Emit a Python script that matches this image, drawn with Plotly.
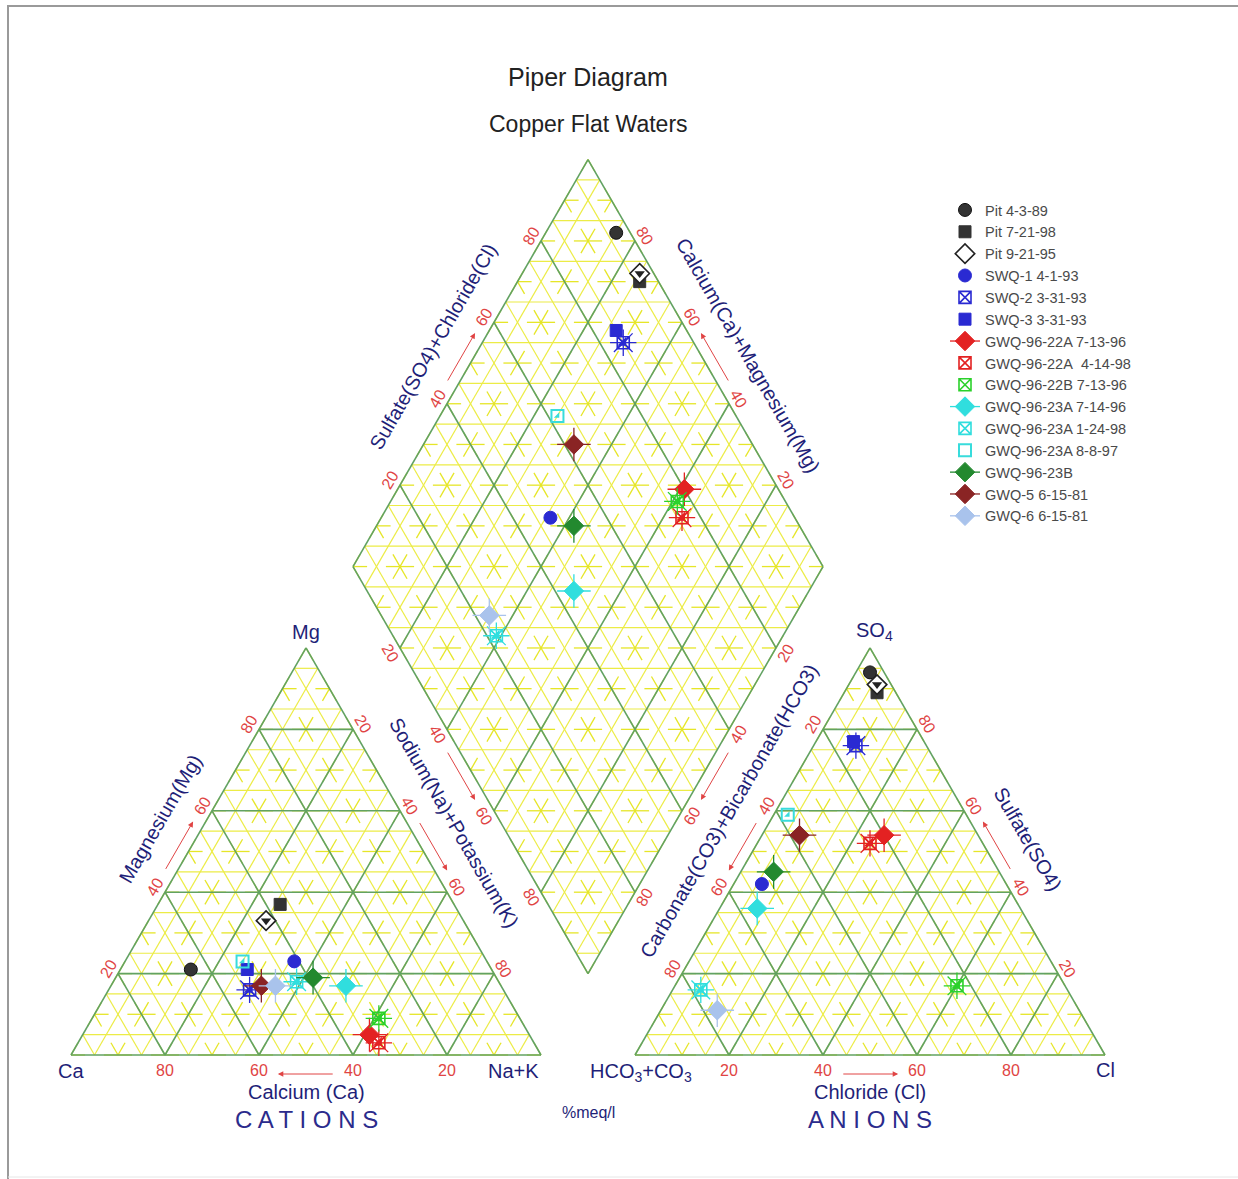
import plotly.graph_objects as go

# ---------------- sample data (percent of total meq/l) ----------------
samples = ["Pit 4-3-89", "Pit 7-21-98", "Pit 9-21-95", "SWQ-1 4-1-93", "SWQ-2 3-31-93",
           "SWQ-3 3-31-93", "GWQ-96-22A 7-13-96", "GWQ-96-22A\u00a0 4-14-98", "GWQ-96-22B 7-13-96",
           "GWQ-96-23A 7-14-96", "GWQ-96-23A 1-24-98", "GWQ-96-23A 8-8-97", "GWQ-96-23B",
           "GWQ-5 6-15-81", "GWQ-6 6-15-81"]

# cations
ca   = [64, 37, 42, 41, 54, 52, 34, 33, 30, 33, 43, 52, 39, 51, 48]
mg   = [21, 37, 33, 23, 16, 21,  5,  3,  9, 17, 18, 23, 19, 17, 17]
nak  = [15, 26, 25, 36, 30, 27, 61, 64, 61, 50, 39, 25, 42, 32, 35]
# anions
hco3 = [ 3,  4,  3, 52, 15, 15, 20, 24, 23, 56, 78, 38, 48, 38, 77]
so4  = [94, 89, 91, 42, 76, 77, 54, 52, 17, 36, 16, 59, 45, 54, 11]
cl   = [ 3,  7,  6,  6,  9,  8, 26, 24, 60,  8,  6,  3,  7,  8, 12]

colors = ["#333333", "#333333", "#222222", "#2a2ad2", "#2a2ad2", "#2a2ad2",
          "#e32222", "#e32222", "#2bd12b", "#30dede", "#30dede", "#38dcdc",
          "#23892f", "#8a2424", "#a9c3ec"]
kinds = ["circle", "square", "halfdiamond", "circle", "burst", "square",
         "xdiamond", "burst", "burst", "xdiamond", "burst", "opensquare",
         "xdiamond", "xdiamond", "xdiamond"]

tick_values = [20, 40, 60, 80]

# ---------------- geometry ----------------
H = 3 ** 0.5 / 2
GAP = 20                 # gap between the two triangles (percent of a side)
AX0 = 100 + GAP          # left corner of the anion triangle
PX = 4.7                 # pixels per percent unit
ORIGIN = (71, 1055)      # pixel position of the Ca corner
W, HT = 1238, 1179

NAVY = "#1f1f78"
RED = "#e04444"
GREEN = "#62a262"
FONT = "Liberation Sans, Arial, sans-serif"


def cat_xy(c, m, n):
    return n + m / 2, H * m


def an_xy(h, s, c):
    return AX0 + c + s / 2, H * s


def dia_xy(n, h):
    return 100 + GAP / 2 + (n - h) / 2, H * (200 + GAP - n - h)


fig = go.Figure()


def add_segments(segs, color, width):
    xs, ys = [], []
    for (x0, y0), (x1, y1) in segs:
        xs += [x0, x1, None]
        ys += [y0, y1, None]
    fig.add_trace(go.Scatter(x=xs, y=ys, mode="lines", line=dict(color=color, width=width),
                             hoverinfo="skip", showlegend=False))


def tri_lines(f, levels):
    segs = []
    for p in levels:
        q = 100 - p
        segs.append((f(p, q, 0), f(p, 0, q)))
        segs.append((f(q, p, 0), f(0, p, q)))
        segs.append((f(q, 0, p), f(0, q, p)))
    return segs


def tri_stars(f, r):
    segs = []
    dirs = [(0, 1, -1), (1, 0, -1), (1, -1, 0)]
    for a in range(0, 101, 10):
        for b in range(0, 101 - a, 10):
            c = 100 - a - b
            for da, db, dc in dirs:
                for sg in (1, -1):
                    e = (a + sg * r * da, b + sg * r * db, c + sg * r * dc)
                    if min(e) >= -1e-9:
                        segs.append((f(a, b, c), f(*e)))
    return segs


def dia_lines(levels, horiz_levels):
    segs = []
    for p in levels:
        segs.append((dia_xy(p, 0), dia_xy(p, 100)))
        segs.append((dia_xy(0, p), dia_xy(100, p)))
    for k in horiz_levels:
        if k <= 100:
            segs.append((dia_xy(0, k), dia_xy(k, 0)))
        else:
            segs.append((dia_xy(k - 100, 100), dia_xy(100, k - 100)))
    return segs


def dia_stars(r):
    segs = []
    dirs = [(0, 1), (1, 0), (1, -1)]
    for n in range(0, 101, 10):
        for h in range(0, 101, 10):
            for dn, dh in dirs:
                for sg in (1, -1):
                    e = (n + sg * r * dn, h + sg * r * dh)
                    if -1e-9 <= e[0] <= 100 + 1e-9 and -1e-9 <= e[1] <= 100 + 1e-9:
                        segs.append((dia_xy(n, h), dia_xy(*e)))
    return segs


# ---------------- yellow background texture ----------------
odd = list(range(5, 100, 10))
YEL1 = "#ecec46"
YEL2 = "#e6e628"
STAR = 3.0
for f in (cat_xy, an_xy):
    add_segments(tri_lines(f, odd), YEL1, 1.2)
    add_segments(tri_stars(f, STAR), YEL2, 1.3)
add_segments(dia_lines(odd, list(range(5, 200, 10))), YEL1, 1.2)
add_segments(dia_stars(STAR), YEL2, 1.3)

# ---------------- green grid and outlines ----------------
major = [20, 40, 60, 80]
grid = []
for f in (cat_xy, an_xy):
    grid += tri_lines(f, major)
    grid += [(f(100, 0, 0), f(0, 100, 0)), (f(0, 100, 0), f(0, 0, 100)), (f(0, 0, 100), f(100, 0, 0))]
grid += dia_lines(major, [])
grid += [(dia_xy(0, 0), dia_xy(100, 0)), (dia_xy(100, 0), dia_xy(100, 100)),
         (dia_xy(100, 100), dia_xy(0, 100)), (dia_xy(0, 100), dia_xy(0, 0))]
add_segments(grid, GREEN, 1.6)

# ---------------- samples ----------------
for i, name in enumerate(samples):
    pts = [cat_xy(ca[i], mg[i], nak[i]), an_xy(hco3[i], so4[i], cl[i]), dia_xy(nak[i], hco3[i])]
    xs = [pts[0][0], None, pts[1][0], None, pts[2][0]]
    ys = [pts[0][1], None, pts[1][1], None, pts[2][1]]
    col = colors[i]
    grp = "s%d" % i
    kind = kinds[i]

    def extra(symbol, size, fill, lw, lcol):
        fig.add_trace(go.Scatter(x=xs, y=ys, mode="markers", legendgroup=grp, showlegend=False,
                                 hoverinfo="skip",
                                 marker=dict(symbol=symbol, size=size, color=fill,
                                             line=dict(width=lw, color=lcol))))

    if kind == "xdiamond":
        extra("cross-thin-open", 24, col, 1.3, col)
    if kind == "burst":
        extra("asterisk-open", 22, col, 1.3, col)

    mode = "markers"
    line = None
    if kind == "circle":
        mk = dict(symbol="circle", size=13, color=col, line=dict(width=1, color="#111111" if i < 3 else col))
    elif kind == "square":
        mk = dict(symbol="square", size=12, color=col, line=dict(width=1, color=col))
    elif kind == "halfdiamond":
        mk = dict(symbol="diamond", size=15, color="white", line=dict(width=1.6, color=col))
    elif kind == "xdiamond":
        mk = dict(symbol="diamond", size=15, color=col, line=dict(width=1, color=col))
        mode = "lines+markers"
        line = dict(color=col, width=1.3)
    elif kind == "burst":
        mk = dict(symbol="square-x-open", size=12, color=col, line=dict(width=1.6, color=col))
    else:  # opensquare
        mk = dict(symbol="square-open", size=12, color=col, line=dict(width=2, color=col))

    fig.add_trace(go.Scatter(x=xs, y=ys, mode=mode, name=name, legendgroup=grp, marker=mk,
                             line=line, connectgaps=False, hoverinfo="name"))

    if kind == "halfdiamond":
        extra("triangle-down", 9, col, 0, col)
    if kind == "burst":
        extra("triangle-se", 10, col, 0, col)
    if kind == "opensquare":
        extra("triangle-se", 6, col, 0, col)

# ---------------- text ----------------
ann = []


def text(x, y, s, size, color, angle=0, xanchor="center", xref="x", yref="y"):
    ann.append(dict(x=x, y=y, text=s, showarrow=False, textangle=angle, xanchor=xanchor,
                    yanchor="middle", xref=xref, yref=yref,
                    font=dict(size=size, color=color, family=FONT)))


def arrow(tail, head):
    ann.append(dict(x=head[0], y=head[1], ax=tail[0], ay=tail[1], xref="x", yref="y",
                    axref="x", ayref="y", text="", showarrow=True, arrowhead=2,
                    arrowsize=1.1, arrowwidth=1, arrowcolor=RED))


def shift(p, nrm, d_px):
    return p[0] + nrm[0] * d_px / PX, p[1] + nrm[1] * d_px / PX


N_L, N_R, N_D = (-H, 0.5), (H, 0.5), (0, -1)
N_LL, N_LR = (-H, -0.5), (H, -0.5)

# each scale: point on the edge for a given value, outward normal, label angle
scales = {
    "ca":   (lambda v: cat_xy(v, 0, 100 - v), N_D, 0),
    "mg":   (lambda v: cat_xy(100 - v, v, 0), N_L, -60),
    "na":   (lambda v: cat_xy(0, 100 - v, v), N_R, 60),
    "cl":   (lambda v: an_xy(100 - v, 0, v), N_D, 0),
    "hco3": (lambda v: an_xy(v, 100 - v, 0), N_L, -60),
    "so4":  (lambda v: an_xy(0, v, 100 - v), N_R, 60),
    "d_so4cl": (lambda v: dia_xy(0, 100 - v), N_L, -60),
    "d_camg":  (lambda v: dia_xy(100 - v, 0), N_R, 60),
    "d_na":    (lambda v: dia_xy(v, 100), N_LL, 60),
    "d_hco3":  (lambda v: dia_xy(100, v), N_LR, -60),
}

for key, (g, nrm, ang) in scales.items():
    off = 15 if nrm == N_D else 11
    for v in tick_values:
        p = shift(g(v), nrm, off)
        text(p[0], p[1], str(v), 16, RED, ang)
    aoff = 19 if nrm == N_D else 11
    arrow(shift(g(44), nrm, aoff), shift(g(56), nrm, aoff))

titles = [
    ("mg", 53, "Magnesium(Mg)"),
    ("na", 48, "Sodium(Na)+Potassium(K)"),
    ("d_so4cl", 49, "Sulfate(SO4)+Chloride(Cl)"),
    ("d_camg", 47, "Calcium(Ca)+Magnesium(Mg)"),
    ("hco3", 45, "Carbonate(CO3)+Bicarbonate(HCO3)"),
    ("so4", 48, "Sulfate(SO4)"),
]
for key, v, s in titles:
    g, nrm, ang = scales[key]
    p = shift(g(v), nrm, 41)
    text(p[0], p[1], s, 20, NAVY, ang)

# corner labels
text(0, -16 / PX, "Ca", 20, NAVY)
text(100, -16 / PX, "Na+K", 20, NAVY, xanchor="right")
text(50, 100 * H + 16 / PX, "Mg", 20, NAVY)
text(AX0 + 6 / PX, -17 / PX, "HCO<sub>3</sub>+CO<sub>3</sub>", 20, NAVY)
text(AX0 + 100, -15 / PX, "Cl", 20, NAVY)
text(AX0 + 50 + 4 / PX, 100 * H + 16 / PX, "SO<sub>4</sub>", 20, NAVY)

# bottom captions
text(50, -37 / PX, "Calcium (Ca)", 20, NAVY)
text(AX0 + 50, -37 / PX, "Chloride (Cl)", 20, NAVY)
text(50, -64 / PX, "C A T I O N S", 24, "#2b2b8c")
text(AX0 + 50, -64 / PX, "A N I O N S", 24, "#2b2b8c")
text(100 + GAP / 2, -57 / PX, "%meq/l", 16, NAVY)

# title lines
text(100 + GAP / 2, 1 - 77 / HT, "Piper Diagram", 25, "#222222", yref="paper")
text(100 + GAP / 2, 1 - 124 / HT, "Copper Flat Waters", 23, "#222222", yref="paper")

# ---------------- frame ----------------
shapes = [
    dict(type="line", xref="paper", yref="paper", x0=7 / W, x1=1, y0=1 - 6 / HT, y1=1 - 6 / HT,
         line=dict(color="#9a9a9a", width=2)),
    dict(type="line", xref="paper", yref="paper", x0=8 / W, x1=8 / W, y0=0, y1=1 - 6 / HT,
         line=dict(color="#9a9a9a", width=2)),
    dict(type="line", xref="paper", yref="paper", x0=8 / W, x1=1, y0=2 / HT, y1=2 / HT,
         line=dict(color="#e6e6e6", width=1)),
]

fig.update_layout(
    width=W, height=HT, autosize=False,
    margin=dict(l=0, r=0, t=0, b=0, pad=0),
    paper_bgcolor="white", plot_bgcolor="white",
    font=dict(family=FONT),
    xaxis=dict(range=[-ORIGIN[0] / PX, (W - ORIGIN[0]) / PX], visible=False, fixedrange=True),
    yaxis=dict(range=[(ORIGIN[1] - HT) / PX, ORIGIN[1] / PX], visible=False, fixedrange=True),
    showlegend=True,
    legend=dict(x=945 / W, y=1 - 194 / HT, xanchor="left", yanchor="top",
                bgcolor="rgba(0,0,0,0)", font=dict(size=14.5, color="#4a4a4a", family=FONT),
                tracegroupgap=0, itemwidth=30, traceorder="normal"),
    annotations=ann,
    shapes=shapes,
)

fig.write_html("out.html", config={"displayModeBar": False})
